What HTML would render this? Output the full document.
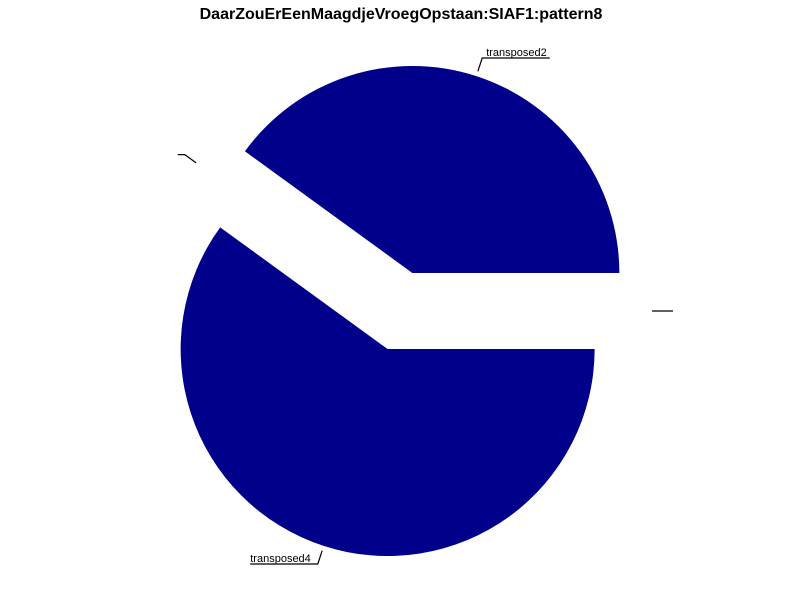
<!DOCTYPE html>
<html><head><meta charset="utf-8"><style>
body{margin:0;background:#fff;}
svg{display:block;font-family:"Liberation Sans","DejaVu Sans",sans-serif;}
</style></head><body>
<svg id="chart" width="800" height="600" viewBox="0 0 800 600">
<text x="401" y="19" text-anchor="middle" font-size="16" font-weight="bold">DaarZouErEenMaagdjeVroegOpstaan:SIAF1:pattern8</text>
<g id="slices"></g><g id="labels"></g>
</svg>
<script>
const categories = ["", "transposed2", "", "transposed4"];
const values = [0, 40, 0, 60];
const cx = 400, cy = 311, R = 207, explode = 40;
const NS = "http://www.w3.org/2000/svg";
const gS = document.getElementById('slices'), gL = document.getElementById('labels');
const total = values.reduce((a,b)=>a+b,0);
function pt(x,y,r,a){return [x+r*Math.cos(a), y-r*Math.sin(a)];}
let acc = 0;
values.forEach((v,i)=>{
  const a0 = acc/total*2*Math.PI; acc += v;
  const a1 = acc/total*2*Math.PI; const am = (a0+a1)/2;
  const ox = cx+explode*Math.cos(am), oy = cy-explode*Math.sin(am);
  if (v > 0) {
    const p0 = pt(ox,oy,R,a0), p1 = pt(ox,oy,R,a1);
    const large = (a1-a0) > Math.PI ? 1 : 0;
    const path = document.createElementNS(NS,'path');
    path.setAttribute('d',`M${ox},${oy} L${p0[0]},${p0[1]} A${R},${R} 0 ${large} 0 ${p1[0]},${p1[1]} Z`);
    path.setAttribute('fill','#00008b');
    
    
    gS.appendChild(path);
  }
  const s = pt(ox,oy,R+5,am), e = pt(ox,oy,R+19,am);
  const right = Math.cos(am) >= -1e-9;
  const t = document.createElementNS(NS,'text');
  t.textContent = categories[i];
  t.setAttribute('font-size','11');
  t.setAttribute('y', e[1]-2);
  
  
  gL.appendChild(t);
  const w = categories[i] ? t.getComputedTextLength() : 0;
  const hx = right ? e[0]+7+w : e[0]-7-w;
  t.setAttribute('x', right ? e[0]+4 : hx);
  const ln = document.createElementNS(NS,'polyline');
  ln.setAttribute('points',`${s[0]},${s[1]} ${e[0]},${e[1]} ${hx},${e[1]}`);
  ln.setAttribute('fill','none');ln.setAttribute('stroke','#000');ln.setAttribute('stroke-width','1.2');
  
  
  gL.appendChild(ln);
});
</script>
</body></html>
